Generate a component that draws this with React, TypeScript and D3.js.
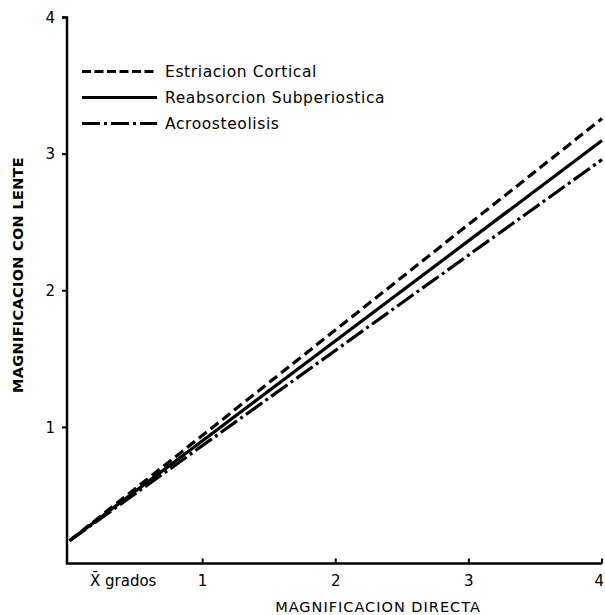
import React from "react";
import * as d3 from "d3";

const xTicks = [1, 2, 3, 4];
const yTicks = [1, 2, 3, 4];
const seriesNames = ["Estriacion  Cortical", "Reabsorcion  Subperiostica", "Acroosteolisis"];
const xValues = [0, 4];
const dashedValues = [0.17, 3.26];
const solidValues = [0.17, 3.1];
const dashDotValues = [0.17, 2.96];
const xTitle = "MAGNIFICACION  DIRECTA";
const yTitle = "MAGNIFICACION  CON  LENTE";
const xOriginLabel = "X\u0304 grados";

const W = 605;
const H = 615;

export default function App() {
  const x = d3.scaleLinear().domain([0, 4]).range([69.5, 602]);
  const y = d3.scaleLinear().domain([0, 4]).range([564, 17.5]);
  const line = d3
    .line<[number, number]>()
    .x((d) => x(d[0]))
    .y((d) => y(d[1]));

  const series = [
    { name: seriesNames[0], values: dashedValues, dash: "10 5" },
    { name: seriesNames[1], values: solidValues, dash: "none" },
    { name: seriesNames[2], values: dashDotValues, dash: "20 4 3 4" },
  ];

  const font = "'DejaVu Sans', 'Liberation Sans', sans-serif";
  const axisX = 67;
  const axisY = 563.5;

  return (
    <svg
      width={W}
      height={H}
      style={{ position: "absolute", left: 0, top: 0, background: "#fff" }}
      fontFamily={font}
    >
      {/* axes */}
      <path
        d={`M${axisX - 5},${y(4)} L${axisX},${y(4)} L${axisX},${axisY} L${x(4)},${axisY}`}
        fill="none"
        stroke="#000"
        strokeWidth={2.5}
      />
      {yTicks.map((t) => (
        <g key={"yt" + t}>
          <line x1={axisX - 5} x2={axisX} y1={y(t)} y2={y(t)} stroke="#000" strokeWidth={2} />
          <text x={55} y={y(t)} dy="0.35em" textAnchor="end" fontSize={15}>
            {t}
          </text>
        </g>
      ))}
      {xTicks.map((t, i) => (
        <g key={"xt" + t}>
          <line x1={x(t)} x2={x(t)} y1={axisY} y2={axisY - 5} stroke="#000" strokeWidth={2} />
          <text
            x={i === xTicks.length - 1 ? W - 1 : x(t)}
            y={586}
            textAnchor={i === xTicks.length - 1 ? "end" : "middle"}
            fontSize={15}
          >
            {t}
          </text>
        </g>
      ))}
      <text x={90} y={586} fontSize={15}>
        {xOriginLabel}
      </text>
      <text x={378} y={612} textAnchor="middle" fontSize={14.5} letterSpacing={1}>
        {xTitle}
      </text>
      <text
        transform={`translate(23,275) rotate(-90)`}
        textAnchor="middle"
        fontSize={14.5}
        fontWeight="bold"
        letterSpacing={0.3}
      >
        {yTitle}
      </text>

      {/* lines */}
      {series.map((s) => (
        <path
          key={s.name}
          d={line(xValues.map((v, i) => [v, s.values[i]] as [number, number])) || ""}
          fill="none"
          stroke="#000"
          strokeWidth={3.2}
          strokeDasharray={s.dash}
        />
      ))}

      {/* legend */}
      {series.map((s, i) => {
        const ly = 71.5 + i * 26;
        return (
          <g key={"lg" + i}>
            <line
              x1={82}
              x2={157}
              y1={ly}
              y2={ly}
              stroke="#000"
              strokeWidth={3.2}
              strokeDasharray={i === 0 ? "9 3.5" : i === 2 ? "18 4 3 4" : "none"}
            />
            <text x={165} y={ly} dy="0.36em" fontSize={15.5} letterSpacing={0.6}>
              {s.name}
            </text>
          </g>
        );
      })}
    </svg>
  );
}
